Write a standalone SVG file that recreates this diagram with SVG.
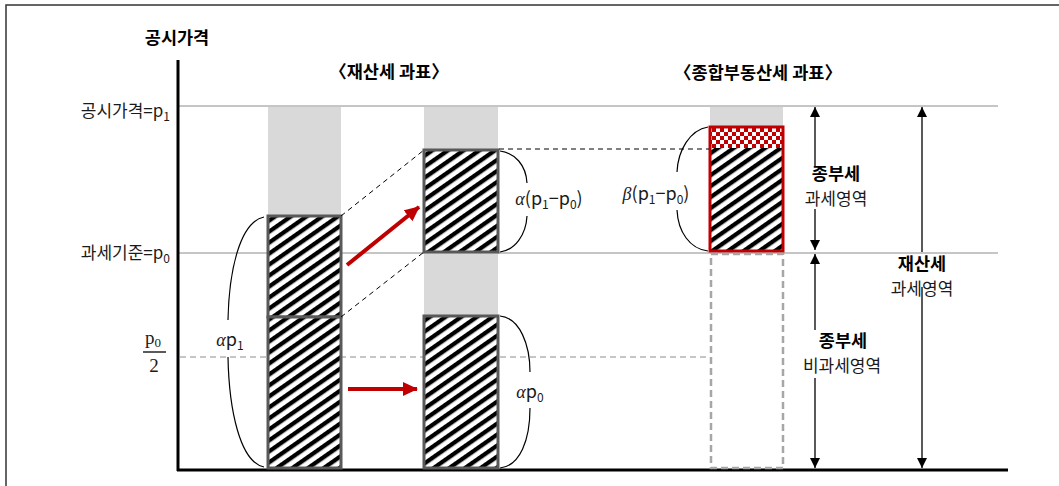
<svg xmlns="http://www.w3.org/2000/svg" width="1059" height="486" viewBox="0 0 1059 486">
<style>
text{font-family:"Noto Sans CJK KR","Noto Sans",sans-serif;font-size:17px;fill:#1a1a1a}
.b{font-weight:bold;fill:#000;font-size:17.5px}
.m{text-anchor:middle}
.e{text-anchor:end}
.g{font-family:"Liberation Serif",serif;font-style:italic}
.s{font-size:12px}
.mt{font-size:18px}
.ser{font-family:"Liberation Serif",serif;font-size:19px}
.grid{stroke:#8c8c8c;stroke-width:1;fill:none}
.dash{stroke:#000;stroke-width:1;stroke-dasharray:5 4;fill:none}
.gdash{stroke:#8c8c8c;stroke-width:1;stroke-dasharray:6 4;fill:none}
.col{fill:#d9d9d9}
.box{fill:url(#hatch);stroke:#595959;stroke-width:3}
.brace{stroke:#000;stroke-width:1.2;fill:none}
.red{stroke:#c00000;stroke-width:4;fill:none;marker-end:url(#rh)}
.dbl{stroke:#000;stroke-width:1.3;fill:none}
</style>
<defs>
<pattern id="hatch" patternUnits="userSpaceOnUse" width="20" height="9" patternTransform="rotate(-35)">
<rect width="20" height="9" fill="#fff"/>
<rect width="20" height="4.3" fill="#000"/>
</pattern>
<pattern id="check" patternUnits="userSpaceOnUse" width="8" height="8">
<rect width="8" height="8" fill="#fff"/>
<rect width="4" height="4" fill="#c00000"/>
<rect x="4" y="4" width="4" height="4" fill="#c00000"/>
</pattern>
<marker id="rh" markerUnits="userSpaceOnUse" markerWidth="16" markerHeight="14" refX="14" refY="7" orient="auto">
<path d="M0,0 L15,7 L0,14 Z" fill="#c00000"/>
</marker>
<marker id="bh" markerUnits="userSpaceOnUse" markerWidth="10" markerHeight="10" refX="10" refY="5" orient="auto-start-reverse">
<path d="M0,0 L10,5 L0,10 Z" fill="#000"/>
</marker>
</defs>
<rect width="1059" height="486" fill="#fff"/>
<path d="M6,486 V5 H1059" fill="none" stroke="#333" stroke-width="1.5"/>

<g id="gridlines">
<line class="grid" x1="178" y1="106" x2="998" y2="106"/>
<line class="grid" x1="178" y1="253" x2="998" y2="253"/>
<line class="gdash" x1="180" y1="357" x2="708" y2="357"/>
</g>

<g id="axes">
<line x1="178" y1="60" x2="178" y2="471" stroke="#000" stroke-width="3"/>
<line x1="177" y1="470" x2="1008" y2="470" stroke="#000" stroke-width="3"/>
<text class="b m" x="177" y="44">공시가격</text>
<text class="e" x="170" y="117">공시가격=p<tspan class="s" dy="4">1</tspan></text>
<text class="e" x="170" y="259">과세기준=p<tspan class="s" dy="4">0</tspan></text>
<text class="ser m" x="153" y="344">p<tspan font-size="13" dy="3">0</tspan></text>
<line x1="143" y1="352" x2="166" y2="352" stroke="#000" stroke-width="1.3"/>
<text class="ser m" x="154" y="372">2</text>
</g>

<g id="titles">
<text class="b m" x="389" y="78">〈재산세 과표〉</text>
<text class="b m" x="758" y="79">〈종합부동산세 과표〉</text>
</g>

<g id="col-left">
<rect class="col" x="268" y="107" width="73" height="361"/>
<rect class="box" x="268" y="216" width="73" height="101"/>
<rect class="box" x="268" y="317" width="73" height="151"/>
</g>

<g id="col-mid">
<rect class="col" x="424" y="107" width="74" height="361"/>
<rect class="box" x="424" y="150" width="74" height="102"/>
<rect class="box" x="424" y="316" width="74" height="152"/>
</g>

<g id="col-right">
<rect class="col" x="710" y="107" width="73" height="20"/>
<rect x="710" y="127" width="73" height="21" fill="url(#check)"/>
<rect x="710" y="148" width="73" height="103" fill="url(#hatch)"/>
<rect x="710" y="127" width="73" height="124" fill="none" stroke="#c00000" stroke-width="3"/>
<rect x="711" y="254" width="72" height="214" fill="none" stroke="#a6a6a6" stroke-width="2.5" stroke-dasharray="7 4"/>
</g>

<g id="connectors">
<line class="dash" x1="341" y1="216" x2="424" y2="150"/>
<line class="dash" x1="341" y1="317" x2="424" y2="252"/>
<line class="dash" x1="499" y1="149" x2="709" y2="149"/>
<line class="red" x1="347" y1="265" x2="419" y2="207"/>
<line class="red" x1="348" y1="389" x2="417" y2="389"/>
<line class="dbl" x1="815" y1="107" x2="815" y2="166" marker-start="url(#bh)"/>
<line class="dbl" x1="815" y1="209" x2="815" y2="250" marker-end="url(#bh)"/>
<line class="dbl" x1="815" y1="254" x2="815" y2="330" marker-start="url(#bh)"/>
<line class="dbl" x1="815" y1="378" x2="815" y2="468" marker-end="url(#bh)"/>
<line class="dbl" x1="922" y1="107" x2="922" y2="252" marker-start="url(#bh)"/>
<line class="dbl" x1="922" y1="287" x2="922" y2="468" marker-end="url(#bh)"/>
</g>

<g id="braces">
<path class="brace" d="M264,217 C240,222 229,270 228,320"/>
<path class="brace" d="M228,357 C229,410 240,462 264,467"/>
<path class="brace" d="M500,151 C515,153 526,165 527,183"/>
<path class="brace" d="M527,216 C526,235 515,250 500,252"/>
<path class="brace" d="M500,316 C520,318 530,345 530,372"/>
<path class="brace" d="M530,408 C530,440 520,466 500,468"/>
<path class="brace" d="M708,127 C690,130 678,150 677,172"/>
<path class="brace" d="M677,210 C678,232 690,249 708,251"/>
</g>

<g id="labels">
<text class="m mt" x="230" y="346"><tspan class="g">α</tspan>p<tspan class="s" dy="4">1</tspan></text>
<text class="m mt" x="549" y="205"><tspan class="g">α</tspan>(p<tspan class="s" dy="4">1</tspan><tspan dy="-4">−p</tspan><tspan class="s" dy="4">0</tspan><tspan dy="-4">)</tspan></text>
<text class="m mt" x="530" y="398"><tspan class="g">α</tspan>p<tspan class="s" dy="4">0</tspan></text>
<text class="m mt" x="656" y="200"><tspan class="g">β</tspan>(p<tspan class="s" dy="4">1</tspan><tspan dy="-4">−p</tspan><tspan class="s" dy="4">0</tspan><tspan dy="-4">)</tspan></text>
<text class="b m" x="836" y="180">종부세</text>
<text class="m" x="836" y="205">과세영역</text>
<text class="b m" x="843" y="347">종부세</text>
<text class="m" x="842" y="372">비과세영역</text>
<text class="b m" x="922" y="270">재산세</text>
<text class="m" x="922" y="295">과세영역</text>
</g>
</svg>
